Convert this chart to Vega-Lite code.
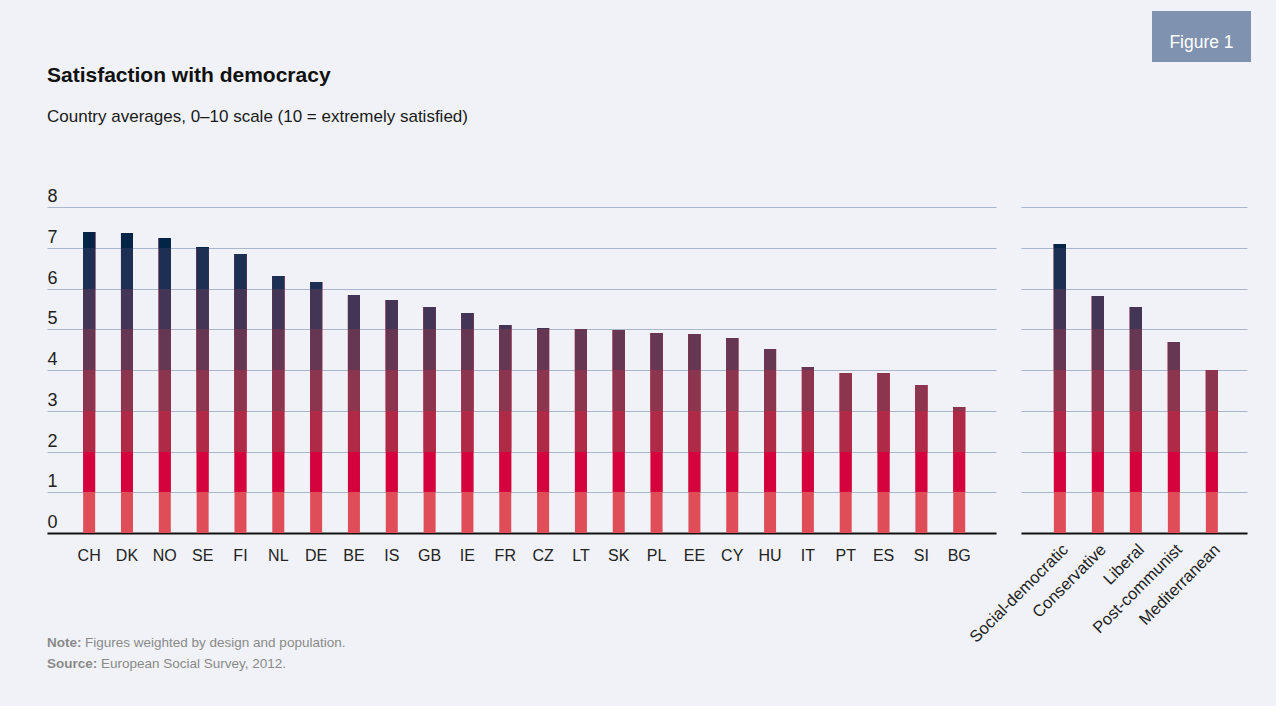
{
  "$schema": "https://vega.github.io/schema/vega-lite/v6.json",
  "background": "#f0f2f7",
  "padding": {"left": 47, "top": 11, "right": 25, "bottom": 8},
  "spacing": -11,
  "datasets": {
    "countries": [
      {"name": "CH", "value": 7.39}, {"name": "DK", "value": 7.36}, {"name": "NO", "value": 7.24},
      {"name": "SE", "value": 7.02}, {"name": "FI", "value": 6.85}, {"name": "NL", "value": 6.31},
      {"name": "DE", "value": 6.16}, {"name": "BE", "value": 5.84}, {"name": "IS", "value": 5.72},
      {"name": "GB", "value": 5.55}, {"name": "IE", "value": 5.40}, {"name": "FR", "value": 5.10},
      {"name": "CZ", "value": 5.03}, {"name": "LT", "value": 5.01}, {"name": "SK", "value": 4.98},
      {"name": "PL", "value": 4.91}, {"name": "EE", "value": 4.88}, {"name": "CY", "value": 4.79},
      {"name": "HU", "value": 4.52}, {"name": "IT", "value": 4.07}, {"name": "PT", "value": 3.93},
      {"name": "ES", "value": 3.93}, {"name": "SI", "value": 3.63}, {"name": "BG", "value": 3.09}
    ],
    "regimes": [
      {"name": "Social-democratic", "value": 7.09}, {"name": "Conservative", "value": 5.82},
      {"name": "Liberal", "value": 5.55}, {"name": "Post-communist", "value": 4.69},
      {"name": "Mediterranean", "value": 4.0}
    ],
    "notes": [
      {"line": 1, "label": "Note:", "body": "Figures weighted by design and population."},
      {"line": 2, "label": "Source:", "body": "European Social Survey, 2012."}
    ],
    "figure": [{"label": "Figure 1"}],
    "blank": [{"t": ""}]
  },
  "vconcat": [
    {
      "spacing": 0,
      "hconcat": [
        {"data": {"name": "blank"}, "width": 1105, "height": 65, "mark": {"type": "text"}, "encoding": {"text": {"field": "t"}}},
        {"data": {"name": "figure"}, "width": 99, "height": 51, "view": {"fill": "#7f93b0", "stroke": null},
         "mark": {"type": "text", "color": "#ffffff", "fontSize": 17.5, "baseline": "middle", "dy": 6.5},
         "encoding": {"text": {"field": "label"}}}
      ]
    },
    {
      "title": {"text": "Satisfaction with democracy", "subtitle": "Country averages, 0–10 scale (10 = extremely satisfied)", "anchor": "start", "offset": 62},
      "spacing": 25,
      "bounds": "flush",
      "hconcat": [
        {
          "data": {"name": "countries"},
          "width": 949, "height": 326,
          "encoding": {
            "x": {"field": "name", "type": "nominal", "sort": null,
                  "scale": {"paddingInner": 0.683, "paddingOuter": 0.885, "align": 0.54},
                  "axis": {"title": null, "labelAngle": 0, "ticks": false, "tickSize": 0, "labelPadding": 14, "domainColor": "#111111", "domainWidth": 2, "labelFontSize": 16, "labelColor": "#222222"}},
            "y": {"field": "value", "type": "quantitative", "scale": {"domain": [0, 8], "nice": false, "round": true},
                  "axis": {"title": null, "values": [0, 1, 2, 3, 4, 5, 6, 7, 8], "domain": false, "ticks": false, "tickSize": 0, "labelPadding": 0, "labelAlign": "left", "labelBaseline": "bottom", "labelFontSize": 18, "labelColor": "#222222", "labelOffset": -2, "grid": true, "gridColor": "#a9b6cd", "gridWidth": 1}}
          },
          "layer": [
            {"mark": {"type": "bar", "color": "#df4d58"}, "encoding": {"y2": {"datum": 0}}},
            {"transform": [{"filter": "datum.value > 1"}], "mark": {"type": "bar", "color": "#d4033e"}, "encoding": {"y2": {"datum": 1}}},
            {"transform": [{"filter": "datum.value > 2"}], "mark": {"type": "bar", "color": "#ae2a46"}, "encoding": {"y2": {"datum": 2}}},
            {"transform": [{"filter": "datum.value > 3"}], "mark": {"type": "bar", "color": "#8b354e"}, "encoding": {"y2": {"datum": 3}}},
            {"transform": [{"filter": "datum.value > 4"}], "mark": {"type": "bar", "color": "#663753"}, "encoding": {"y2": {"datum": 4}}},
            {"transform": [{"filter": "datum.value > 5"}], "mark": {"type": "bar", "color": "#423556"}, "encoding": {"y2": {"datum": 5}}},
            {"transform": [{"filter": "datum.value > 6"}], "mark": {"type": "bar", "color": "#1d2f52"}, "encoding": {"y2": {"datum": 6}}},
            {"transform": [{"filter": "datum.value > 7"}], "mark": {"type": "bar", "color": "#022447"}, "encoding": {"y2": {"datum": 7}}}
          ]
        },
        {
          "data": {"name": "regimes"},
          "width": 226, "height": 326,
          "encoding": {
            "x": {"field": "name", "type": "nominal", "sort": null,
                  "scale": {"paddingInner": 0.684, "paddingOuter": 0.816, "align": 0.53},
                  "axis": {"title": null, "labelAngle": -45, "ticks": false, "tickSize": 0, "labelPadding": 8, "domainColor": "#111111", "domainWidth": 2, "labelFontSize": 16.5, "labelColor": "#222222"}},
            "y": {"field": "value", "type": "quantitative", "scale": {"domain": [0, 8], "nice": false, "round": true},
                  "axis": {"title": null, "values": [0, 1, 2, 3, 4, 5, 6, 7, 8], "domain": false, "ticks": false, "labels": false, "grid": true, "gridColor": "#a9b6cd", "gridWidth": 1}}
          },
          "layer": [
            {"mark": {"type": "bar", "color": "#df4d58"}, "encoding": {"y2": {"datum": 0}}},
            {"transform": [{"filter": "datum.value > 1"}], "mark": {"type": "bar", "color": "#d4033e"}, "encoding": {"y2": {"datum": 1}}},
            {"transform": [{"filter": "datum.value > 2"}], "mark": {"type": "bar", "color": "#ae2a46"}, "encoding": {"y2": {"datum": 2}}},
            {"transform": [{"filter": "datum.value > 3"}], "mark": {"type": "bar", "color": "#8b354e"}, "encoding": {"y2": {"datum": 3}}},
            {"transform": [{"filter": "datum.value > 4"}], "mark": {"type": "bar", "color": "#663753"}, "encoding": {"y2": {"datum": 4}}},
            {"transform": [{"filter": "datum.value > 5"}], "mark": {"type": "bar", "color": "#423556"}, "encoding": {"y2": {"datum": 5}}},
            {"transform": [{"filter": "datum.value > 6"}], "mark": {"type": "bar", "color": "#1d2f52"}, "encoding": {"y2": {"datum": 6}}},
            {"transform": [{"filter": "datum.value > 7"}], "mark": {"type": "bar", "color": "#022447"}, "encoding": {"y2": {"datum": 7}}}
          ]
        }
      ]
    },
    {
      "data": {"name": "notes"},
      "width": 400, "height": 42,
      "encoding": {
        "y": {"field": "line", "type": "ordinal", "axis": null, "scale": {"padding": 0.5}},
        "x": {"value": 0}
      },
      "layer": [
        {"mark": {"type": "text", "align": "left", "baseline": "alphabetic", "fontWeight": "bold", "fontSize": 13.5, "color": "#8a8a8a", "dy": -20}, "encoding": {"text": {"field": "label"}}},
        {"transform": [{"filter": "datum.line == 1"}], "mark": {"type": "text", "align": "left", "baseline": "alphabetic", "fontSize": 13.5, "color": "#8a8a8a", "dx": 38, "dy": -20}, "encoding": {"text": {"field": "body"}}},
        {"transform": [{"filter": "datum.line == 2"}], "mark": {"type": "text", "align": "left", "baseline": "alphabetic", "fontSize": 13.5, "color": "#8a8a8a", "dx": 54, "dy": -20}, "encoding": {"text": {"field": "body"}}}
      ]
    }
  ],
  "config": {
    "font": "Liberation Sans, Arial, sans-serif",
    "view": {"stroke": null},
    "title": {"font": "Liberation Sans, Arial, sans-serif", "fontSize": 21, "fontWeight": "bold", "color": "#111111",
              "subtitleFont": "Liberation Sans, Arial, sans-serif", "subtitleFontSize": 17, "subtitleColor": "#1a1a1a", "subtitlePadding": 23},
    "axis": {"labelFont": "Liberation Sans, Arial, sans-serif"}
  }
}
